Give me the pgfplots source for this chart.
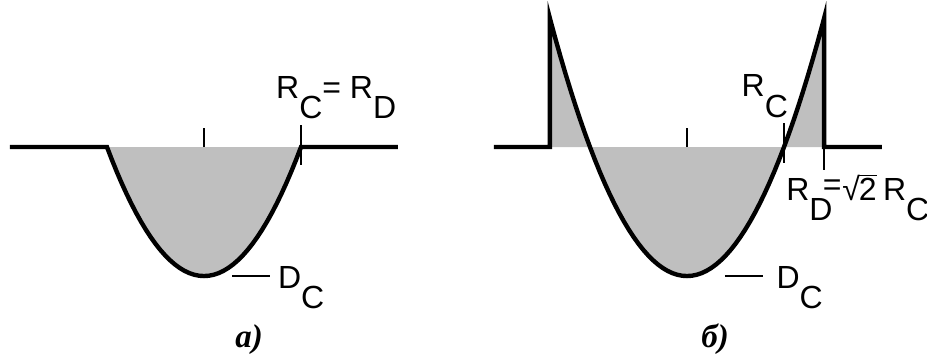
\documentclass[border=0pt]{standalone}
\usepackage{fontspec}
\setmainfont{Liberation Sans}
\newfontfamily\capfont{Liberation Serif}
\usepackage{pgfplots}
\pgfplotsset{compat=1.18}

% subscript letters are full size, just dropped
\newcommand\sub[1]{\raisebox{-0.64em}{#1}}

\pgfplotsset{
  panel/.style={hide axis, clip=false, x=48.5pt, y=64.5pt,
    ymin=-1.636, ymax=1.140, anchor=south west},
}
\tikzset{
  outline/.style={black, line width=2.2pt, line join=miter},
  tickline/.style={black, line width=0.7pt},
  lab/.style={font=\fontsize{16}{19}\selectfont, inner sep=0pt},
  captext/.style={font=\capfont\bfseries\itshape\fontsize{16.5}{19}\selectfont, inner sep=0pt},
}

\begin{document}
\begin{tikzpicture}

% ---- a) R_C = R_D
\begin{axis}[panel, at={(0pt,0pt)}, xmin=-2.103, xmax=2.675]
  \addplot[draw=none, fill=gray!50] coordinates {
    (-1,0) (-0.95,-0.0975) (-0.9,-0.19) (-0.85,-0.2775) (-0.8,-0.36)
    (-0.75,-0.4375) (-0.7,-0.51) (-0.65,-0.5775) (-0.6,-0.64) (-0.55,-0.6975)
    (-0.5,-0.75) (-0.45,-0.7975) (-0.4,-0.84) (-0.35,-0.8775) (-0.3,-0.91)
    (-0.25,-0.9375) (-0.2,-0.96) (-0.15,-0.9775) (-0.1,-0.99) (-0.05,-0.9975)
    (0,-1) (0.05,-0.9975) (0.1,-0.99) (0.15,-0.9775) (0.2,-0.96)
    (0.25,-0.9375) (0.3,-0.91) (0.35,-0.8775) (0.4,-0.84) (0.45,-0.7975)
    (0.5,-0.75) (0.55,-0.6975) (0.6,-0.64) (0.65,-0.5775) (0.7,-0.51)
    (0.75,-0.4375) (0.8,-0.36) (0.85,-0.2775) (0.9,-0.19) (0.95,-0.0975) (1,0)
  } -- cycle;
  \addplot[outline] coordinates {
    (-2,0)
    (-1,0) (-0.95,-0.0975) (-0.9,-0.19) (-0.85,-0.2775) (-0.8,-0.36)
    (-0.75,-0.4375) (-0.7,-0.51) (-0.65,-0.5775) (-0.6,-0.64) (-0.55,-0.6975)
    (-0.5,-0.75) (-0.45,-0.7975) (-0.4,-0.84) (-0.35,-0.8775) (-0.3,-0.91)
    (-0.25,-0.9375) (-0.2,-0.96) (-0.15,-0.9775) (-0.1,-0.99) (-0.05,-0.9975)
    (0,-1) (0.05,-0.9975) (0.1,-0.99) (0.15,-0.9775) (0.2,-0.96)
    (0.25,-0.9375) (0.3,-0.91) (0.35,-0.8775) (0.4,-0.84) (0.45,-0.7975)
    (0.5,-0.75) (0.55,-0.6975) (0.6,-0.64) (0.65,-0.5775) (0.7,-0.51)
    (0.75,-0.4375) (0.8,-0.36) (0.85,-0.2775) (0.9,-0.19) (0.95,-0.0975) (1,0)
    (2,0)
  };
  \addplot[tickline] coordinates {(0,0) (0,0.147)};
  \addplot[tickline] coordinates {(1,0.17) (1,-0.14)};
  \addplot[tickline, line width=0.9pt] coordinates {(0.29,-1) (0.68,-1)};
  \node[lab, anchor=base west] at (axis cs:0.74,0.38) {R\sub{C}= R\sub{D}};
  \node[lab, anchor=base west] at (axis cs:0.76,-1.093) {D\sub{C}};
  \node[captext, anchor=base] at (axis cs:0.464,-1.55) {a)};
\end{axis}

% ---- б) R_D = sqrt2 R_C
\begin{axis}[panel, at={(231.75pt,0pt)}, xmin=-2.304, xmax=2.474]
  \addplot[draw=none, fill=gray!50] coordinates {
    (-1.414,0) (-1.414,1)
    (-1.4,0.96) (-1.35,0.8225) (-1.3,0.69) (-1.25,0.5625) (-1.2,0.44)
    (-1.15,0.3225) (-1.1,0.21) (-1.05,0.1025)
    (-1,0) (-0.95,-0.0975) (-0.9,-0.19) (-0.85,-0.2775) (-0.8,-0.36)
    (-0.75,-0.4375) (-0.7,-0.51) (-0.65,-0.5775) (-0.6,-0.64) (-0.55,-0.6975)
    (-0.5,-0.75) (-0.45,-0.7975) (-0.4,-0.84) (-0.35,-0.8775) (-0.3,-0.91)
    (-0.25,-0.9375) (-0.2,-0.96) (-0.15,-0.9775) (-0.1,-0.99) (-0.05,-0.9975)
    (0,-1) (0.05,-0.9975) (0.1,-0.99) (0.15,-0.9775) (0.2,-0.96)
    (0.25,-0.9375) (0.3,-0.91) (0.35,-0.8775) (0.4,-0.84) (0.45,-0.7975)
    (0.5,-0.75) (0.55,-0.6975) (0.6,-0.64) (0.65,-0.5775) (0.7,-0.51)
    (0.75,-0.4375) (0.8,-0.36) (0.85,-0.2775) (0.9,-0.19) (0.95,-0.0975) (1,0)
    (1.05,0.1025) (1.1,0.21) (1.15,0.3225) (1.2,0.44) (1.25,0.5625)
    (1.3,0.69) (1.35,0.8225) (1.4,0.96)
    (1.414,1) (1.414,0)
  } -- cycle;
  \addplot[outline] coordinates {
    (-1.99,0) (-1.414,0) (-1.414,1)
    (-1.4,0.96) (-1.35,0.8225) (-1.3,0.69) (-1.25,0.5625) (-1.2,0.44)
    (-1.15,0.3225) (-1.1,0.21) (-1.05,0.1025)
    (-1,0) (-0.95,-0.0975) (-0.9,-0.19) (-0.85,-0.2775) (-0.8,-0.36)
    (-0.75,-0.4375) (-0.7,-0.51) (-0.65,-0.5775) (-0.6,-0.64) (-0.55,-0.6975)
    (-0.5,-0.75) (-0.45,-0.7975) (-0.4,-0.84) (-0.35,-0.8775) (-0.3,-0.91)
    (-0.25,-0.9375) (-0.2,-0.96) (-0.15,-0.9775) (-0.1,-0.99) (-0.05,-0.9975)
    (0,-1) (0.05,-0.9975) (0.1,-0.99) (0.15,-0.9775) (0.2,-0.96)
    (0.25,-0.9375) (0.3,-0.91) (0.35,-0.8775) (0.4,-0.84) (0.45,-0.7975)
    (0.5,-0.75) (0.55,-0.6975) (0.6,-0.64) (0.65,-0.5775) (0.7,-0.51)
    (0.75,-0.4375) (0.8,-0.36) (0.85,-0.2775) (0.9,-0.19) (0.95,-0.0975) (1,0)
    (1.05,0.1025) (1.1,0.21) (1.15,0.3225) (1.2,0.44) (1.25,0.5625)
    (1.3,0.69) (1.35,0.8225) (1.4,0.96)
    (1.414,1) (1.414,0) (2.01,0)
  };
  \addplot[tickline] coordinates {(0,0) (0,0.147)};
  \addplot[tickline] coordinates {(1,0.186) (1,-0.124)};
  \addplot[tickline] coordinates {(1.414,0) (1.414,-0.178)};
  \addplot[tickline, line width=0.9pt] coordinates {(0.39,-1) (0.78,-1)};
  \node[lab, anchor=base west] at (axis cs:0.56,0.388) {R\sub{C}};
  \node[lab, anchor=base west] at (axis cs:1.02,-0.411)
    {R\sub{D}\kern-0.3em\raisebox{0.14em}{=}\kern0.02em√\kern-0.03em$\overline{\mbox{2}}$\kern0.2em R\sub{C}};
  \node[lab, anchor=base west] at (axis cs:0.92,-1.093) {D\sub{C}};
  \node[captext, anchor=base] at (axis cs:0.29,-1.55) {б)};
\end{axis}

\pgfresetboundingbox
\path[use as bounding box] (0pt,0pt) rectangle (463.5pt,179.05pt);
\end{tikzpicture}
\end{document}
